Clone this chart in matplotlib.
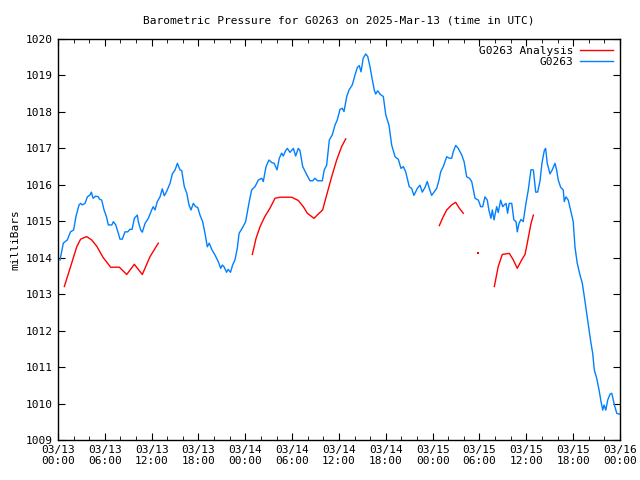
import numpy as np
import matplotlib
matplotlib.use("Agg")
import matplotlib.pyplot as plt
import matplotlib.dates as mdates

# Station G0263, hours after 2025-03-13 00:00 UTC
start = np.datetime64("2025-03-13T00:00")

obs_hours = [
    0.26, 0.68, 1.2, 1.6, 2.0, 2.3, 2.7, 2.9, 3.1, 3.46, 3.76, 4.1, 4.27, 4.5, 4.83,
    5.17, 5.3, 5.6, 5.9, 6.2, 6.45, 6.9, 7.1, 7.4, 7.73, 7.94, 8.24, 8.58, 8.93, 9.22,
    9.5, 9.78, 10.16, 10.29, 10.59, 10.8, 11.15, 11.57, 12.0, 12.2, 12.43, 12.72, 13.07,
    13.36, 13.62, 13.9, 14.35, 14.65, 15.0, 15.3, 15.63, 15.85, 16.18, 16.5, 16.78,
    17.04, 17.33, 17.64, 17.9, 18.19, 18.53, 18.83, 19.13, 19.38, 19.69, 20.1, 20.54,
    20.84, 21.05, 21.27, 21.6, 21.8, 22.1, 22.37, 22.67, 22.97, 23.2, 23.6, 24.04,
    24.5, 24.81, 25.24, 25.66, 26.1, 26.3, 26.65, 27.03, 27.4, 27.7, 28.06, 28.35,
    28.66, 28.86, 29.17, 29.38, 29.72, 30.15, 30.45, 30.78, 31.0, 31.35, 31.77, 32.28,
    32.63, 32.9, 33.27, 33.86, 34.11, 34.42, 34.76, 35.14, 35.49, 35.78, 36.13, 36.42,
    36.64, 36.99, 37.28, 37.7, 38.05, 38.35, 38.6, 38.82, 39.1, 39.42, 39.68, 39.97,
    40.27, 40.52, 40.7, 40.96, 41.25, 41.68, 41.99, 42.4, 42.75, 43.18, 43.6, 43.94,
    44.24, 44.54, 45.0, 45.31, 45.6, 46.03, 46.37, 46.67, 47.02, 47.31, 47.57, 47.87,
    48.51, 48.81, 49.03, 49.36, 49.8, 50.13, 50.44, 50.64, 50.95, 51.28, 51.72, 52.02,
    52.36, 52.7, 53.0, 53.43, 53.85, 54.15, 54.41, 54.7, 55.0, 55.2, 55.47, 55.64,
    55.86, 56.2, 56.4, 56.71, 56.97, 57.18, 57.4, 57.6, 57.8, 58.13, 58.4, 58.68,
    58.84, 59.06, 59.31, 59.6, 59.95, 60.25, 60.59, 60.9, 61.2, 61.45, 61.74, 62.0,
    62.3, 62.47, 62.68, 63.03, 63.32, 63.67, 63.88, 64.09, 64.4, 64.73, 64.86, 65.08,
    65.37, 65.72, 66.01, 66.23, 66.52, 66.87, 67.17, 67.43, 67.73, 67.94, 68.25, 68.5,
    68.71, 69.02, 69.32, 69.57, 69.79, 69.96, 70.18, 70.43, 70.73, 70.95, 71.28, 71.59,
    71.92,
]
obs_mb = [
    1013.94, 1014.40, 1014.49, 1014.71, 1014.76, 1015.13, 1015.45, 1015.49, 1015.45,
    1015.49, 1015.67, 1015.72, 1015.80, 1015.63, 1015.69, 1015.67, 1015.61, 1015.58,
    1015.31, 1015.13, 1014.90, 1014.90, 1014.99, 1014.90, 1014.67, 1014.51, 1014.51,
    1014.71, 1014.71, 1014.78, 1014.78, 1015.08, 1015.17, 1014.99, 1014.76, 1014.70,
    1014.94, 1015.08, 1015.31, 1015.40, 1015.31, 1015.54, 1015.67, 1015.89, 1015.70,
    1015.81, 1016.04, 1016.30, 1016.41, 1016.59, 1016.41, 1016.39, 1015.95, 1015.77,
    1015.45, 1015.31, 1015.49, 1015.40, 1015.38, 1015.17, 1014.99, 1014.67, 1014.30,
    1014.40, 1014.23, 1014.08, 1013.89, 1013.71, 1013.80, 1013.75, 1013.60, 1013.68,
    1013.60, 1013.80, 1013.94, 1014.26, 1014.67, 1014.81, 1014.99, 1015.54, 1015.86,
    1015.95, 1016.13, 1016.18, 1016.09, 1016.50, 1016.68, 1016.61, 1016.59, 1016.41,
    1016.73, 1016.87, 1016.79, 1016.94, 1017.00, 1016.89, 1017.00, 1016.79, 1017.00,
    1016.94, 1016.50, 1016.32, 1016.11, 1016.11, 1016.18, 1016.11, 1016.11, 1016.41,
    1016.54, 1017.23, 1017.37, 1017.64, 1017.78, 1018.07, 1018.10, 1018.01, 1018.42,
    1018.60, 1018.74, 1019.01, 1019.22, 1019.27, 1019.10, 1019.47, 1019.59, 1019.52,
    1019.24, 1018.88, 1018.60, 1018.49, 1018.58, 1018.49, 1018.42, 1017.92, 1017.64,
    1017.09, 1016.77, 1016.70, 1016.45, 1016.50, 1016.36, 1015.95, 1015.90, 1015.71,
    1015.90, 1015.99, 1015.80, 1015.93, 1016.09, 1015.90, 1015.71, 1015.90, 1016.13,
    1016.36, 1016.50, 1016.77, 1016.73, 1016.73, 1016.91, 1017.08, 1017.00, 1016.82,
    1016.64, 1016.22, 1016.18, 1016.09, 1015.63, 1015.58, 1015.40, 1015.40, 1015.67,
    1015.58, 1015.31, 1015.08, 1015.31, 1015.04, 1015.40, 1015.24, 1015.58, 1015.40,
    1015.45, 1015.49, 1015.22, 1015.49, 1015.49, 1015.04, 1014.99, 1014.71, 1014.94,
    1015.05, 1014.99, 1015.49, 1015.86, 1016.41, 1016.41, 1015.80, 1015.80, 1016.09,
    1016.59, 1016.94, 1017.00, 1016.59, 1016.30, 1016.41, 1016.59, 1016.41, 1016.13,
    1015.93, 1015.86, 1015.54, 1015.67, 1015.58, 1015.26, 1014.99, 1014.30, 1013.85,
    1013.53, 1013.30, 1012.93, 1012.48, 1012.16, 1011.70, 1011.38, 1010.92, 1010.69,
    1010.37, 1010.05, 1009.82, 1009.96, 1009.82, 1010.10, 1010.26, 1010.28, 1009.96,
    1009.73, 1009.71,
]

# analysis: gaps (nan) split the segments
ana_hours = [
    0.81, 1.75, 2.4, 2.9, 3.67, 4.3, 4.95, 5.8, 6.75, 7.86, 8.8, 9.78, 10.8, 11.79, 12.85,
    np.nan,
    24.9, 25.37, 25.88, 26.5, 27.16, 27.8, 28.44, 29.94, 30.79, 31.43, 31.94, 32.8,
    33.35, 33.9, 34.42, 35.06, 35.7, 36.34, 36.86,
    np.nan,
    48.85, 49.36, 49.8, 50.44, 50.95, 51.41, 51.92,
    np.nan,
    55.9, 56.4, 56.92, 57.82, 58.33, 58.84, 59.4, 59.83, 60.12, 60.6, 60.9,
]
ana_mb = [
    1013.21, 1013.85, 1014.30, 1014.51, 1014.58, 1014.49, 1014.32, 1014.00, 1013.74,
    1013.74, 1013.54, 1013.82, 1013.54, 1014.03, 1014.40,
    np.nan,
    1014.09, 1014.53, 1014.85, 1015.13, 1015.36, 1015.63, 1015.66, 1015.66, 1015.57,
    1015.40, 1015.22, 1015.08, 1015.20, 1015.31, 1015.72, 1016.22, 1016.68, 1017.05,
    1017.26,
    np.nan,
    1014.88, 1015.13, 1015.31, 1015.45, 1015.52, 1015.36, 1015.22,
    np.nan,
    1013.21, 1013.76, 1014.09, 1014.12, 1013.94, 1013.71, 1013.94, 1014.09, 1014.40,
    1014.94, 1015.17,
]
# lone analysis value between segments
lone_hours = [53.85]
lone_mb = [1014.12]

x0 = mdates.date2num(start)


def hours_to_num(hours):
    # matplotlib date numbers are in days; nan stays nan so gaps survive
    return x0 + np.asarray(hours, dtype=float) / 24.0


plt.rcParams["font.family"] = "DejaVu Sans Mono"
plt.rcParams["font.size"] = 8

fig = plt.figure(figsize=(6.4, 4.8), dpi=100)
ax = fig.add_axes([58 / 640, 40 / 480, 562 / 640, 401 / 480])

ax.plot(hours_to_num(ana_hours), ana_mb, color="#ff0000", lw=1, label="G0263 Analysis")
ax.plot(hours_to_num(lone_hours), lone_mb, color="#ff0000", marker="s", ms=1.5, mew=0, lw=0)
ax.plot(hours_to_num(obs_hours), obs_mb, color="#0080ff", lw=1, label="G0263")

ax.set_xlim(x0, x0 + 3)
ax.set_ylim(1009, 1020)
ax.set_yticks(np.arange(1009, 1021, 1))
ax.xaxis.set_major_locator(mdates.HourLocator(byhour=[0, 6, 12, 18]))
ax.xaxis.set_minor_locator(mdates.HourLocator(interval=2))
ax.xaxis.set_major_formatter(mdates.DateFormatter("%m/%d\n%H:%M"))
ax.tick_params(which="both", direction="in", top=True, right=True)
ax.tick_params(which="major", length=5)
ax.tick_params(which="minor", length=3)
for s in ax.spines.values():
    s.set_linewidth(1)

ax.set_title("Barometric Pressure for G0263 on 2025-Mar-13 (time in UTC)", fontsize=8, pad=11)
ax.set_ylabel("milliBars")

ax.legend(loc="upper right", frameon=False, markerfirst=False, handlelength=3,
          borderaxespad=0.2, labelspacing=0.1, handletextpad=0.6)

fig.savefig("out.png", dpi=100)
